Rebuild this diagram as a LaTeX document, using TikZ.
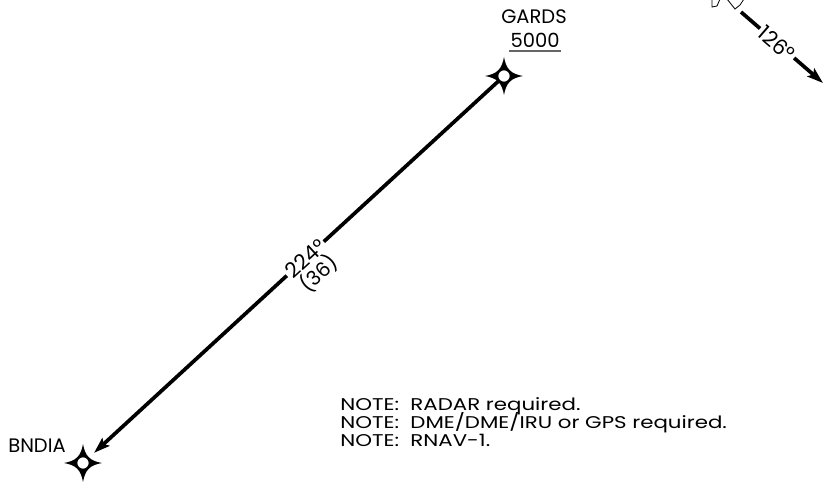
\documentclass[tikz,border=0pt]{standalone}
\usepackage{fontspec}
\setmainfont{Poppins}
\usetikzlibrary{arrows.meta}
\tikzset{
  wpt/.pic={
    \fill (0,19) .. controls (2,7) and (7,2) .. (19,0)
      .. controls (7,-2) and (2,-7) .. (0,-19)
      .. controls (-2,-7) and (-7,-2) .. (-19,0)
      .. controls (-7,2) and (-2,7) .. cycle;
    \draw[fill=white, line width=1.2pt] (0,0) circle (6.3);
  },
  route/.style={line width=3.7pt, -{Stealth[length=16pt,width=10.5pt,inset=3pt]}},
  wname/.style={font=\fontsize{19.5}{21}\selectfont, inner sep=0pt},
  crs/.style={font=\fontsize{21}{23}\selectfont, fill=white, inner sep=2pt},
  note/.style={font=\fontsize{17}{17.7}\selectfont, inner sep=0pt, xscale=1.255, transform shape, anchor=base west},
  boxo/.style={line width=0.8pt},
}
\begin{document}
\begin{tikzpicture}[x=1pt,y=1pt]
\useasboundingbox (0,0) rectangle (825,482);
\coordinate (gards) at (504,406);
\coordinate (bndia) at (83,19);
\coordinate (outs) at (741,470);
\coordinate (oute) at (823,399);
% main route
\draw[route, shorten <=6pt, shorten >=15pt] (gards) -- (bndia)
  node[pos=0.472, sloped, crs] (c224) {224°};
\node[font=\fontsize{20}{22}\selectfont, rotate=42.6, anchor=north, inner sep=0pt] (d36) at ([yshift=2pt,xshift=-2pt]c224.south) {(36)};
% outbound
\draw[route] (outs) -- (oute)
  node[pos=0.44, sloped, crs] (c126) {126°};
\draw[boxo] (727,483) -- (735,473) -- (740,477) -- (744,483);
\draw[boxo] (712,483) -- (712,475) -- (717,476) -- (720,483);
% waypoints
\pic at (gards) {wpt};
\pic at (bndia) {wpt};
\node[wname] (ngards) at (534,465) {GARDS};
\node[wname] (alt) at (535,442) {5000};
\draw[line width=1.2pt, gray!80!black] (509,431) -- (561,431);
\node[wname] (nbndia) at (37,36) {BNDIA};
% notes
\node[note] (note1) at (340,71) {NOTE:\ \ RADAR required.};
\node[note] (note2) at (340,53.3) {NOTE:\ \ DME/DME/IRU or GPS required.};
\node[note] (note3) at (340,35.6) {NOTE:\ \ RNAV-1.};
\end{tikzpicture}
\end{document}
